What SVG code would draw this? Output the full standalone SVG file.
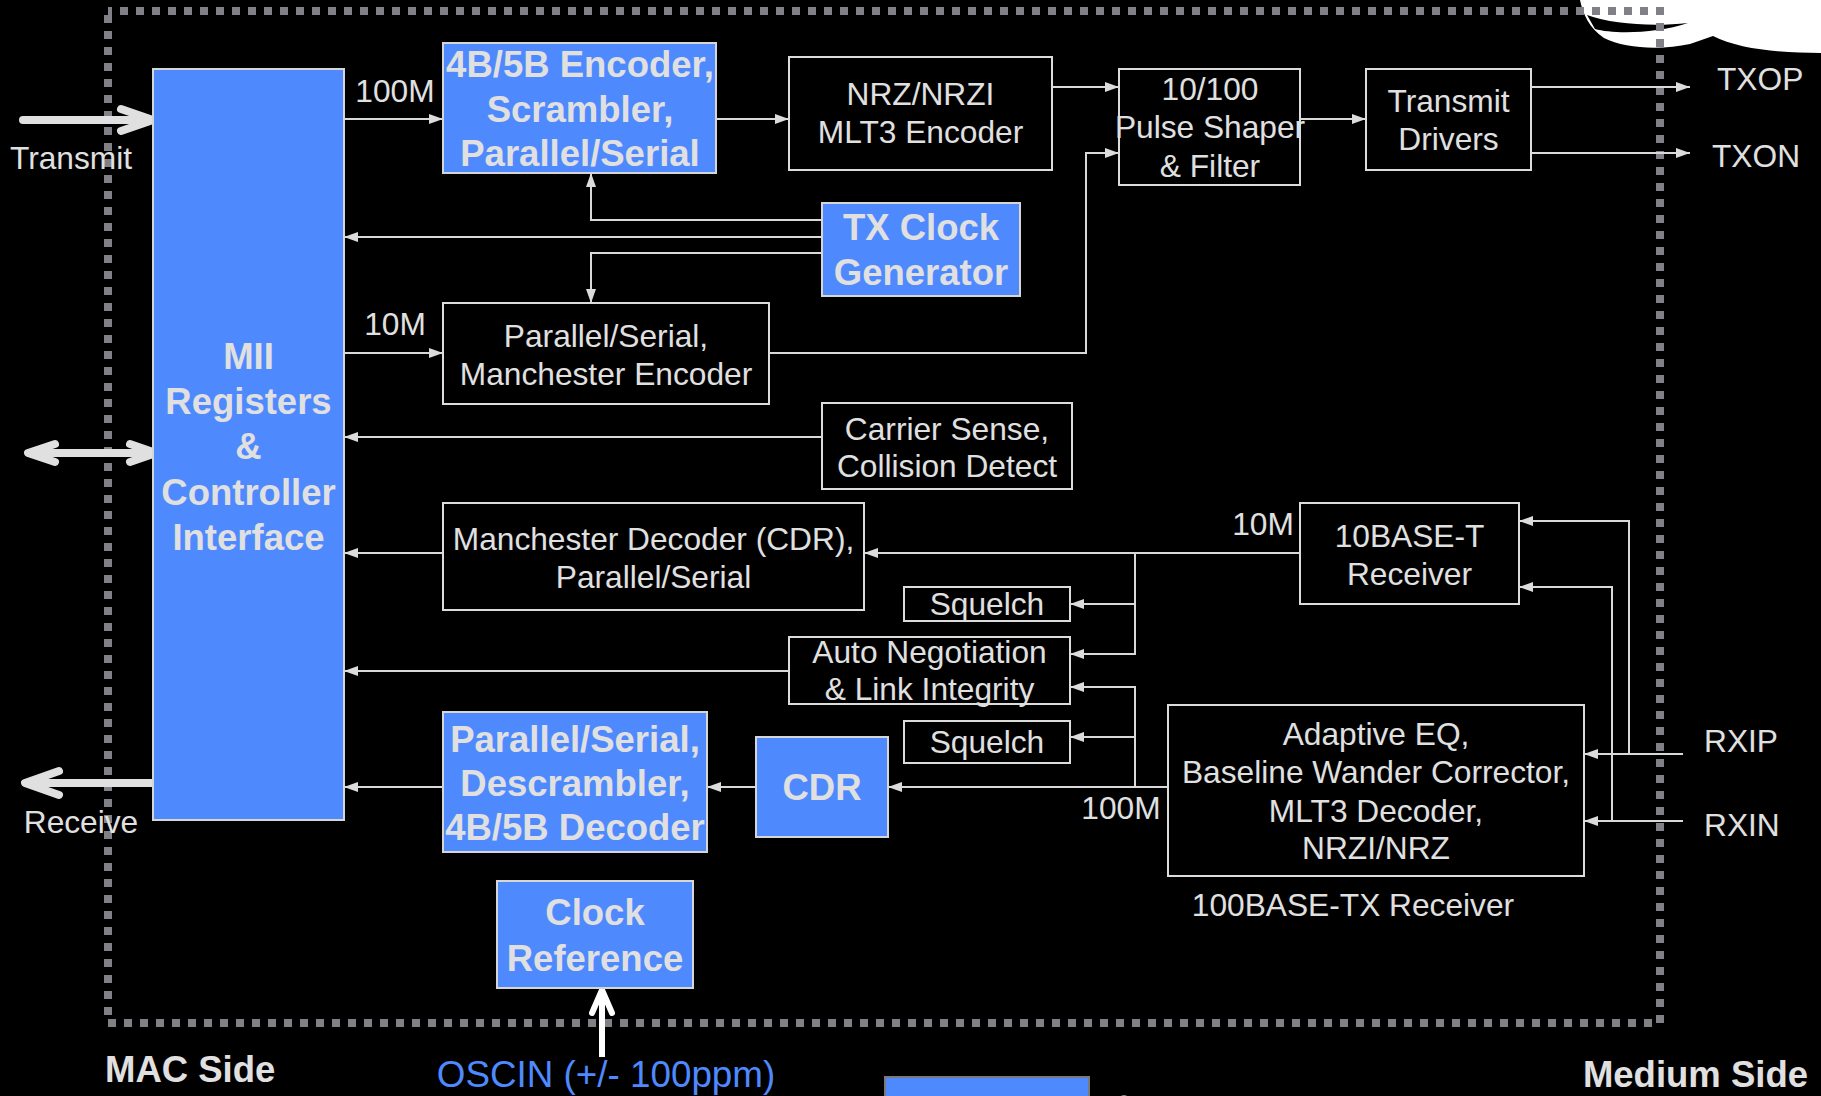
<svg xmlns="http://www.w3.org/2000/svg" width="1821" height="1096" viewBox="0 0 1821 1096">
<defs>
<marker id="ah" viewBox="0 0 14 10" refX="14" refY="5" markerWidth="14" markerHeight="10" markerUnits="userSpaceOnUse" orient="auto">
<path d="M0,0 L14,5 L0,10 Z" fill="#dcdcdc"/>
</marker>
<style>
.bg{fill:#000}
.blue{fill:#4f89fe;stroke:#d6d6d6;stroke-width:2}
.blk{fill:#000;stroke:#dcdcdc;stroke-width:2}
.t{font-family:"Liberation Sans",Arial,sans-serif;font-size:31.7px;fill:#e0e0e0;text-anchor:middle}
.b{font-family:"Liberation Sans",Arial,sans-serif;font-size:36.5px;font-weight:bold;fill:#e0e0e0;text-anchor:middle}
.s{font-family:"Liberation Sans",Arial,sans-serif;font-size:31.7px;fill:#e0e0e0}
.c{fill:none;stroke:#d9d9d9;stroke-width:2}
.ca{fill:none;stroke:#d9d9d9;stroke-width:2;marker-end:url(#ah)}
.thick{fill:none;stroke:#e0e0e0;stroke-width:8;stroke-linecap:round;stroke-linejoin:round}
</style>
</defs>
<rect class="bg" x="0" y="0" width="1821" height="1096"/>

<!-- decorative white shape top right -->
<path d="M1580,0 C1583,14 1589,28 1604,38 C1625,49 1662,50 1690,44 L1713,36 C1738,49 1780,53 1821,53 L1821,0 Z" fill="#fff"/>
<path d="M1587,15 C1612,24 1652,27 1688,23 C1656,34 1612,34 1595,29 Z" fill="#000"/>

<!-- boundary -->
<rect x="108" y="11" width="1552" height="1012" fill="none" stroke="#808086" stroke-width="8" stroke-dasharray="8 8" stroke-dashoffset="4"/>

<!-- bottom partial blue rect -->
<rect x="885" y="1077" width="204" height="30" fill="#4f89fe" stroke="#7a7a7a" stroke-width="2"/>
<circle cx="1124" cy="1099" r="4" fill="#8a8a8a"/>

<g id="connectors">
<line class="ca" x1="344" y1="119" x2="443" y2="119"/>
<line class="ca" x1="716" y1="119" x2="789" y2="119"/>
<line class="ca" x1="1052" y1="87" x2="1119" y2="87"/>
<line class="ca" x1="1300" y1="119" x2="1366" y2="119"/>
<line class="ca" x1="1531" y1="87" x2="1690" y2="87"/>
<line class="ca" x1="1531" y1="153" x2="1690" y2="153"/>
<polyline class="ca" points="822,220 591,220 591,173"/>
<line class="ca" x1="822" y1="237" x2="344" y2="237"/>
<polyline class="ca" points="822,253 591,253 591,303"/>
<line class="ca" x1="344" y1="353" x2="443" y2="353"/>
<polyline class="ca" points="769,353 1086,353 1086,153 1119,153"/>
<line class="ca" x1="822" y1="437" x2="344" y2="437"/>
<line class="ca" x1="443" y1="553" x2="344" y2="553"/>
<line class="ca" x1="1300" y1="553" x2="864" y2="553"/>
<polyline class="ca" points="1135,553 1135,654 1070,654"/>
<line class="ca" x1="1135" y1="604" x2="1070" y2="604"/>
<line class="ca" x1="789" y1="671" x2="344" y2="671"/>
<line class="ca" x1="1168" y1="787" x2="888" y2="787"/>
<polyline class="ca" points="1135,787 1135,687 1070,687"/>
<line class="ca" x1="1135" y1="737" x2="1070" y2="737"/>
<line class="ca" x1="756" y1="787" x2="707" y2="787"/>
<line class="ca" x1="443" y1="787" x2="344" y2="787"/>
<line class="ca" x1="1683" y1="754" x2="1584" y2="754"/>
<polyline class="ca" points="1629,754 1629,521 1519,521"/>
<line class="ca" x1="1683" y1="821" x2="1584" y2="821"/>
<polyline class="ca" points="1612,821 1612,587 1519,587"/>
<!-- thick MII arrows -->
<line class="thick" x1="23" y1="120" x2="150" y2="120"/>
<polyline class="thick" points="121,109 153,120 121,131"/>
<line class="thick" x1="30" y1="453" x2="154" y2="453"/>
<polyline class="thick" points="55,444 28,453 55,462"/>
<polyline class="thick" points="130,444 156,453 130,462"/>
<line class="thick" x1="156" y1="783" x2="28" y2="783"/>
<polyline class="thick" points="59,771 25,783 59,795"/>
<!-- clock ref -->
<line x1="602" y1="1057" x2="602" y2="991" stroke="#fff" stroke-width="6"/>
<polyline points="592,1013 602,990 612,1013" fill="none" stroke="#fff" stroke-width="6" stroke-linecap="round" stroke-linejoin="round"/>
</g>

<g id="mii">
<rect class="blue" x="153" y="69" width="191" height="751"/>
<text class="b" x="248.5" y="369">MII</text>
<text class="b" x="248.5" y="414">Registers</text>
<text class="b" x="248.5" y="459">&amp;</text>
<text class="b" x="248.5" y="505">Controller</text>
<text class="b" x="248.5" y="550">Interface</text>
</g>

<g id="enc4b5b">
<rect class="blue" x="443" y="43" width="273" height="130"/>
<text class="b" x="580" y="77">4B/5B Encoder,</text>
<text class="b" x="580" y="122">Scrambler,</text>
<text class="b" x="580" y="166">Parallel/Serial</text>
</g>

<g id="nrz">
<rect class="blk" x="789" y="57" width="263" height="113"/>
<text class="t" x="920.5" y="105">NRZ/NRZI</text>
<text class="t" x="920.5" y="143">MLT3 Encoder</text>
</g>

<g id="pulse">
<rect class="blk" x="1119" y="69" width="181" height="116"/>
<text class="t" x="1210" y="100">10/100</text>
<text class="t" x="1210" y="138">Pulse Shaper</text>
<text class="t" x="1210" y="177">&amp; Filter</text>
</g>

<g id="drivers">
<rect class="blk" x="1366" y="69" width="165" height="101"/>
<text class="t" x="1448.5" y="112">Transmit</text>
<text class="t" x="1448.5" y="150">Drivers</text>
</g>

<g id="txclock">
<rect class="blue" x="822" y="203" width="198" height="93"/>
<text class="b" x="921" y="240">TX Clock</text>
<text class="b" x="921" y="285">Generator</text>
</g>

<g id="manenc">
<rect class="blk" x="443" y="303" width="326" height="101"/>
<text class="t" x="606" y="347">Parallel/Serial,</text>
<text class="t" x="606" y="385">Manchester Encoder</text>
</g>

<g id="carrier">
<rect class="blk" x="822" y="403" width="250" height="86"/>
<text class="t" x="947" y="440">Carrier Sense,</text>
<text class="t" x="947" y="477">Collision Detect</text>
</g>

<g id="mandec">
<rect class="blk" x="443" y="503" width="421" height="107"/>
<text class="t" x="653.5" y="550">Manchester Decoder (CDR),</text>
<text class="t" x="653.5" y="588">Parallel/Serial</text>
</g>

<g id="rx10">
<rect class="blk" x="1300" y="503" width="219" height="101"/>
<text class="t" x="1409.5" y="547">10BASE-T</text>
<text class="t" x="1409.5" y="585">Receiver</text>
</g>

<g id="squelch1">
<rect class="blk" x="904" y="587" width="166" height="34"/>
<text class="t" x="987" y="615">Squelch</text>
</g>

<g id="autoneg">
<rect class="blk" x="789" y="637" width="281" height="67"/>
<text class="t" x="929.5" y="663">Auto Negotiation</text>
<text class="t" x="929.5" y="700">&amp; Link Integrity</text>
</g>

<g id="squelch2">
<rect class="blk" x="904" y="721" width="166" height="42"/>
<text class="t" x="987" y="753">Squelch</text>
</g>

<g id="descr">
<rect class="blue" x="443" y="712" width="264" height="140"/>
<text class="b" x="575" y="752">Parallel/Serial,</text>
<text class="b" x="575" y="796">Descrambler,</text>
<text class="b" x="575" y="840">4B/5B Decoder</text>
</g>

<g id="cdr">
<rect class="blue" x="756" y="737" width="132" height="100"/>
<text class="b" x="822" y="800">CDR</text>
</g>

<g id="adaptive">
<rect class="blk" x="1168" y="705" width="416" height="171"/>
<text class="t" x="1376" y="745">Adaptive EQ,</text>
<text class="t" x="1376" y="783">Baseline Wander Corrector,</text>
<text class="t" x="1376" y="822">MLT3 Decoder,</text>
<text class="t" x="1376" y="859">NRZI/NRZ</text>
</g>

<g id="clockref">
<rect class="blue" x="497" y="881" width="196" height="107"/>
<text class="b" x="595" y="925">Clock</text>
<text class="b" x="595" y="971">Reference</text>
</g>

<g id="labels">
<text class="t" x="395" y="102">100M</text>
<text class="t" x="395" y="335">10M</text>
<text class="t" x="1263" y="535">10M</text>
<text class="t" x="1121" y="819">100M</text>
<text class="t" x="71" y="169">Transmit</text>
<text class="t" x="81" y="833">Receive</text>
<text class="s" x="1717" y="90">TXOP</text>
<text class="s" x="1712" y="167">TXON</text>
<text class="s" x="1704" y="752">RXIP</text>
<text class="s" x="1704" y="836">RXIN</text>
<text class="t" x="1353" y="916">100BASE-TX Receiver</text>
<text class="b" x="105" y="1082" style="text-anchor:start">MAC Side</text>
<text class="b" x="1808" y="1087" style="text-anchor:end">Medium Side</text>
<text class="t" x="606" y="1087" style="fill:#4f89fe;font-size:36.8px">OSCIN (+/- 100ppm)</text>
</g>
</svg>
